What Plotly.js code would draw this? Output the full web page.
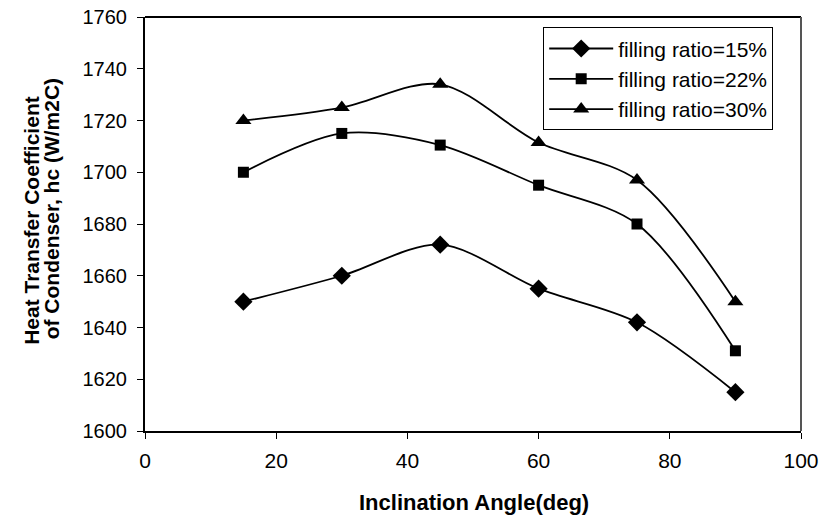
<!DOCTYPE html>
<html>
<head>
<meta charset="utf-8">
<script src="https://cdn.plot.ly/plotly-3.0.1.min.js"></script>
<style>
  html, body { margin: 0; padding: 0; background: #fff; }
  #chart { width: 822px; height: 518px; }
</style>
</head>
<body>
<div id="chart"></div>
<script>
// Inclination angles (deg)
const angles = [15, 30, 45, 60, 75, 90];

// Condenser heat transfer coefficient hc (W/m2C) for each filling ratio
const hc15 = [1650, 1660, 1672, 1655, 1642, 1615];
const hc22 = [1700, 1715, 1710.5, 1695, 1680, 1631];
const hc30 = [1720, 1725, 1734, 1711.5, 1697, 1650];

const seriesNames = ['filling ratio=15%', 'filling ratio=22%', 'filling ratio=30%'];
const xTicks = [0, 20, 40, 60, 80, 100];
const yTicks = [1600, 1620, 1640, 1660, 1680, 1700, 1720, 1740, 1760];

const xTitle = 'Inclination Angle(deg)';
const yTitleLines = ['Heat Transfer Coefficient', 'of Condenser, hc (W/m2C)'];

const font = 'Liberation Sans, Arial, sans-serif';

function series(y, name, symbol, size) {
  return {
    x: angles, y: y, name: name, type: 'scatter', mode: 'lines+markers',
    line: { color: '#000', width: 1.8, shape: 'spline', smoothing: 0.9 },
    marker: { symbol: symbol, size: size, color: '#000' }
  };
}

const data = [
  series(hc15, seriesNames[0], 'diamond', 14),
  series(hc22, seriesNames[1], 'square', 11),
  series(hc30, seriesNames[2], 'triangle-up', 14)
];

const titleFont = { family: font, size: 21, color: '#000', weight: 'bold' };

const layout = {
  width: 822, height: 518,
  paper_bgcolor: '#fff', plot_bgcolor: '#fff',
  margin: { l: 145, r: 21, t: 17, b: 87 },
  font: { family: font, size: 20, color: '#000' },
  showlegend: true,
  legend: {
    x: 0.607, y: 0.975, xanchor: 'left', yanchor: 'top',
    bgcolor: '#fff', bordercolor: '#000', borderwidth: 1,
    font: { family: font, size: 21, color: '#000' },
    tracegroupgap: 0, itemwidth: 64
  },
  xaxis: {
    range: [0, 100], tickvals: xTicks, ticktext: xTicks.map(String),
    ticks: 'outside', ticklen: 6, tickcolor: '#000', tickwidth: 1,
    ticklabelstandoff: 4,
    showline: true, linecolor: '#000', linewidth: 2, mirror: false,
    showgrid: false, zeroline: false,
    tickfont: { family: font, size: 21 }
  },
  yaxis: {
    range: [1600, 1760], tickvals: yTicks, ticktext: yTicks.map(String),
    ticks: 'outside', ticklen: 6, tickcolor: '#000', tickwidth: 1,
    ticklabelstandoff: 6,
    showline: true, linecolor: '#000', linewidth: 2, mirror: false,
    showgrid: false, zeroline: false,
    tickfont: { family: font, size: 20 }
  },
  annotations: [
    { text: xTitle, xref: 'paper', yref: 'paper', x: 0.502, y: -0.172,
      xanchor: 'center', yanchor: 'middle', showarrow: false, font: Object.assign({}, titleFont, { size: 22 }) },
    { text: yTitleLines[0], xref: 'paper', yref: 'paper', x: -0.172, y: 0.508,
      xanchor: 'center', yanchor: 'middle', textangle: -90, showarrow: false, font: titleFont },
    { text: yTitleLines[1], xref: 'paper', yref: 'paper', x: -0.143, y: 0.536,
      xanchor: 'center', yanchor: 'middle', textangle: -90, showarrow: false, font: titleFont }
  ],
  shapes: [
    // frame on the top and right of the plot area
    { type: 'line', xref: 'paper', yref: 'paper', x0: 0, x1: 1, y0: 1, y1: 1, line: { color: '#000', width: 2 } },
    { type: 'line', xref: 'paper', yref: 'paper', x0: 1, x1: 1, y0: 0, y1: 1, line: { color: '#555', width: 2 } }
  ]
};

Plotly.newPlot('chart', data, layout, { staticPlot: true, displayModeBar: false });
</script>
</body>
</html>
